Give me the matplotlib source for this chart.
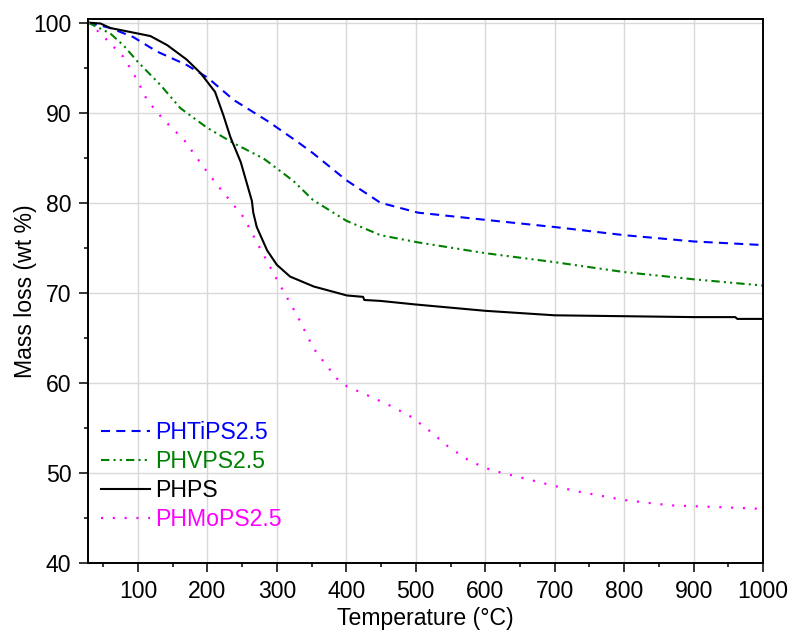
import matplotlib.pyplot as plt
from matplotlib.ticker import MultipleLocator

plt.rcParams['font.family'] = ['Liberation Sans', 'DejaVu Sans']
plt.rcParams['font.size'] = 16.6
plt.rcParams['lines.scale_dashes'] = False

# PHTiPS2.5
ti_T = [28, 60, 93, 127, 170, 200, 238, 286, 329, 352, 400, 449, 503, 600, 700, 800, 900, 1000]
ti_m = [100.0, 99.4, 98.4, 96.8, 95.3, 93.9, 91.4, 89.1, 86.8, 85.5, 82.5, 80.0, 78.9, 78.1, 77.3, 76.4, 75.7, 75.3]

# PHVPS2.5
v_T = [28, 60, 80, 99, 132, 161, 200, 238, 281, 300, 324, 352, 400, 449, 503, 600, 700, 800, 900, 1000]
v_m = [100.0, 98.8, 97.4, 95.7, 93.1, 90.5, 88.3, 86.6, 84.9, 83.8, 82.4, 80.3, 78.0, 76.4, 75.6,
       74.4, 73.4, 72.3, 71.5, 70.8]

# PHPS
p_T = [28, 46, 60, 99, 118, 142, 170, 190, 211, 223, 233, 248, 264, 266, 271, 286, 300, 319,
       353, 401, 424, 426, 449, 500, 600, 700, 800, 900, 960, 963, 1000]
p_m = [100.0, 99.9, 99.4, 98.8, 98.5, 97.5, 95.9, 94.4, 92.3, 89.7, 87.3, 84.5, 80.2, 78.9, 77.3,
       74.7, 73.1, 71.8, 70.7, 69.7, 69.55, 69.2, 69.1, 68.7, 68.0, 67.5, 67.4, 67.3, 67.3, 67.1, 67.1]

# PHMoPS2.5
mo_T = [28, 46, 60, 79, 99, 113, 137, 166, 194, 218, 252, 276, 302, 329, 353, 386, 401,
        434, 465, 494, 521, 547, 578, 609, 661, 729, 799, 866, 938, 1000]
mo_m = [100.0, 98.8, 97.7, 96.2, 93.6, 91.4, 89.2, 87.0, 84.0, 81.6, 78.4, 74.9, 71.2, 67.5,
        63.8, 60.5, 59.6, 58.5, 57.4, 56.2, 54.6, 52.9, 51.3, 50.3, 49.3, 48.0, 47.0, 46.4, 46.2, 46.0]

fig = plt.figure(figsize=(7.92, 6.33), dpi=100)
ax = fig.add_axes([0.1111, 0.1106, 0.8523, 0.8594])

ax.plot(ti_T, ti_m, color='#0000ff', lw=1.5, ls=(0, (6.5, 4.5)), label='PHTiPS2.5')
ax.plot(v_T, v_m, color='#008000', lw=1.5, ls=(0, (6, 3, 1.5, 3, 1.5, 3)), label='PHVPS2.5')
ax.plot(p_T, p_m, color='black', lw=1.5, label='PHPS')
ax.plot(mo_T, mo_m, color='#ff00ff', lw=1.6, ls=(0, (1.5, 7)), label='PHMoPS2.5')

ax.set_xlim(28, 1000)
ax.set_ylim(40, 100.4)
ax.xaxis.set_major_locator(MultipleLocator(100))
ax.xaxis.set_minor_locator(MultipleLocator(50))
ax.yaxis.set_major_locator(MultipleLocator(10))
ax.yaxis.set_minor_locator(MultipleLocator(5))
ax.grid(True, which='major', color='#d9d9d9', lw=1)
ax.set_axisbelow(True)
ax.tick_params(which='major', direction='out', length=6.5, width=1.1, pad=5.5)
ax.tick_params(which='minor', direction='out', length=3.2, width=1.1)
for s in ax.spines.values():
    s.set_linewidth(1.4)

ax.set_xlabel('Temperature (°C)', labelpad=3)
ax.set_ylabel('Mass loss (wt %)', labelpad=-3)

leg = ax.legend(loc='upper left', bbox_to_anchor=(-0.005, 0.29), frameon=False,
                handlelength=2.15, handletextpad=0.2, labelspacing=0.25, borderaxespad=0.3)
for txt, line in zip(leg.get_texts(), leg.get_lines()):
    txt.set_color(line.get_color())

fig.savefig('out.png', dpi=100)
